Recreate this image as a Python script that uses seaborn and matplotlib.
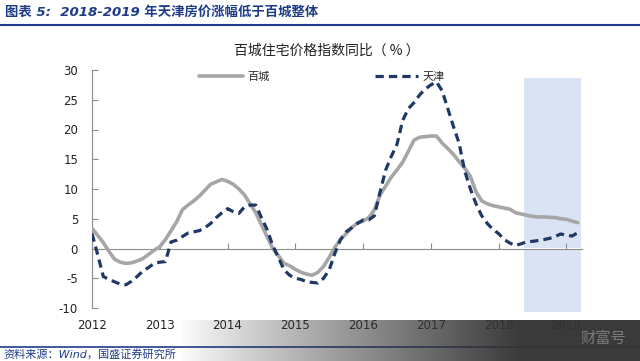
import numpy as np
import pandas as pd
import matplotlib
matplotlib.use("Agg")
import matplotlib.pyplot as plt
import seaborn as sns
from matplotlib.lines import Line2D

# monthly data, Jan 2012 - Mar 2019
baicheng = [
    3.4, 2.2, 1.0, -0.5, -1.8, -2.3, -2.5, -2.4, -2.1, -1.7, -1.0, -0.3,
    0.3, 1.5, 3.0, 4.5, 6.5, 7.3, 8.0, 8.8, 9.8, 10.8, 11.2, 11.6,
    11.3, 10.8, 10.0, 9.0, 7.5, 6.0, 4.0, 2.0, 0.0, -1.2, -2.5, -2.9,
    -3.5, -4.0, -4.3, -4.5, -4.0, -3.0, -1.5, 0.2, 1.5, 2.5, 3.5, 4.3,
    4.6, 5.2, 6.5, 9.0, 10.5, 12.0, 13.2, 14.5, 16.3, 18.2, 18.7, 18.8,
    18.9, 18.9, 17.7, 16.8, 15.8, 14.6, 13.5, 12.1, 9.5, 8.0, 7.5, 7.2,
    7.0, 6.8, 6.6, 6.0, 5.8, 5.6, 5.4, 5.3, 5.3, 5.25, 5.2, 5.0,
    4.9, 4.6, 4.35,
]
tianjin = [
    2.5, -1.0, -4.7, -5.2, -5.6, -6.0, -6.1, -5.5, -4.7, -3.8, -3.2, -2.5,
    -2.3, -2.2, 1.1, 1.4, 2.0, 2.6, 2.8, 3.0, 3.5, 4.2, 5.2, 6.0,
    6.7, 6.2, 5.9, 7.0, 7.3, 7.3, 5.2, 3.2, 0.5, -1.5, -3.6, -4.5,
    -5.0, -5.2, -5.6, -5.7, -5.8, -5.0, -3.6, -0.8, 1.5, 2.8, 3.5, 4.2,
    4.8, 4.8, 5.5, 9.5, 13.2, 15.5, 17.5, 21.5, 23.5, 24.5, 25.8, 26.8,
    27.5, 28.0, 26.5, 23.5, 20.5, 17.7, 13.0, 10.0, 7.5, 5.5, 4.2, 3.2,
    2.5, 1.5, 0.9, 0.5, 0.8, 1.15, 1.2, 1.35, 1.5, 1.7, 2.0, 2.45,
    2.2, 2.1, 2.65,
]
years = [2012, 2013, 2014, 2015, 2016, 2017, 2018, 2019]
y_ticks = [-10, -5, 0, 5, 10, 15, 20, 25, 30]
shade_span = (2018.38, 2019.22)

t = 2012 + np.arange(len(baicheng)) / 12
df = pd.DataFrame({"t": t, "百城": baicheng, "天津": tianjin})

sns.set_theme(style="white")
plt.rcParams["font.family"] = ["DejaVu Sans", "Noto Sans CJK SC"]
plt.rcParams["axes.unicode_minus"] = False

navy = "#1f3864"
fig = plt.figure(figsize=(6.4, 3.61), dpi=100)
ax = fig.add_axes([92 / 640, 1 - 308 / 361, 490 / 640, 238 / 361])

ax.axvspan(*shade_span, ymin=-0.018, ymax=0.965, color="#dae3f3", lw=0, clip_on=False, zorder=0)
sns.lineplot(data=df, x="t", y="百城", ax=ax, color="#a6a6a6", lw=2.6, label="百城", zorder=3)
sns.lineplot(data=df, x="t", y="天津", ax=ax, color=navy, lw=2.3, label="天津", zorder=4)
ax.lines[1].set_dashes((2.6, 1.6))

ax.set_xlim(2012, 2019.23)
ax.set_ylim(-10, 30)
ax.set_yticks(y_ticks)
ax.set_xticks(years)
ax.set_xlabel("")
ax.set_ylabel("")
for s in ["top", "right", "bottom"]:
    ax.spines[s].set_visible(False)
ax.spines["left"].set_color("#8c8c8c")
ax.spines["left"].set_linewidth(0.8)
ax.tick_params(axis="y", direction="in", length=4, color="#8c8c8c", width=0.8,
               labelsize=8.5, labelcolor="#222222", pad=10, left=True)
ax.tick_params(axis="x", length=0, labelsize=8.5, labelcolor="#222222", pad=8)

# zero line with year ticks
zero = ax.secondary_xaxis(0.25)
zero.set_xticks(years)
zero.set_xticklabels([])
zero.spines["bottom"].set_color("#8c8c8c")
zero.spines["bottom"].set_linewidth(0.8)
zero.tick_params(axis="x", direction="in", length=4, color="#8c8c8c", width=0.8)

leg = ax.legend(loc="upper center", bbox_to_anchor=(0.47, 1.035), ncol=2, frameon=False,
                handlelength=3.9, handletextpad=0.4, columnspacing=9.5,
                prop={"family": ["Noto Sans CJK SC"], "size": 8})

fig.text(327 / 640, 1 - 51 / 361, "百城住宅价格指数同比（ % ）", ha="center", va="center",
         fontsize=10, color="#222222", family=["Noto Sans CJK SC", "DejaVu Sans"])

fig.text(5 / 640, 1 - 12 / 361, "图表 5:  2018-2019 年天津房价涨幅低于百城整体", ha="left", va="center",
         fontsize=9.6, color="#1f3c88", weight="bold", style="italic")
fig.add_artist(Line2D([0, 1], [1 - 24.5 / 361] * 2, transform=fig.transFigure, color="#1f3c88", lw=1.5))
fig.add_artist(Line2D([0, 1], [1 - 347 / 361] * 2, transform=fig.transFigure, color="#1f3c88", lw=1.2))
fig.text(3 / 640, 1 - 354 / 361, "资料来源：Wind，国盛证券研究所", ha="left", va="center",
         fontsize=8, color="#1f3c88", style="italic")

# dark gradient strip at the bottom
band = fig.add_axes([0, 0, 1, 41 / 361], zorder=10)
band.axis("off")
xs = np.arange(640)
alpha = np.clip((xs - 180) / 340, 0, 1) ** 0.9 * 0.97
img = np.zeros((1, 640, 4))
img[..., :3] = 0.2
img[0, :, 3] = alpha
band.imshow(img, aspect="auto", extent=[0, 1, 0, 1])
band.set_xlim(0, 1)
band.set_ylim(0, 1)
band.text(603 / 640, 0.55, "财富号", ha="center", va="center", fontsize=11,
          color="#7a7a7a", family=["Noto Sans CJK SC"])

fig.savefig("out.png", dpi=100)
